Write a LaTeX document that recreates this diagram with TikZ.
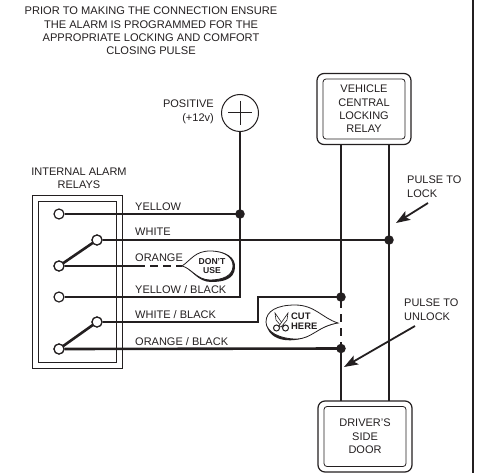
\documentclass[tikz,border=0pt]{standalone}
\usepackage{fontspec}
\setmainfont{Liberation Sans}
\usetikzlibrary{arrows.meta}
\definecolor{ink}{HTML}{231F20}
\tikzset{
  wire/.style={line width=2.6pt,draw=ink},
  term/.style={circle,draw=ink,line width=1.2pt,fill=white,minimum size=10pt,inner sep=0pt},
  dot/.style={circle,fill=ink,minimum size=9.5pt,inner sep=0pt},
  lbl/.style={font=\fontsize{11}{13}\selectfont,text=ink,inner sep=0pt},
  wl/.style={lbl,anchor=base west},
  outerbox/.style={draw=ink,line width=1.2pt,rounded corners=7pt,minimum width=94pt,minimum height=71pt,inner sep=0pt},
  innerbox/.style={draw=ink,line width=0.8pt,rounded corners=3pt,minimum width=82pt,minimum height=60pt,align=center,inner sep=0pt,font=\fontsize{11}{13.3}\selectfont,text=ink},
  pointer/.style={line width=1.8pt,draw=ink,-{Stealth[length=14pt,width=10pt,inset=3pt]}},
  balloon/.style={draw=ink,line width=0.8pt,fill=white},
  bold tag/.style={font=\bfseries\fontsize{8.6}{9.6}\selectfont,text=ink,align=center,inner sep=0pt},
}
\begin{document}
\begin{tikzpicture}[x=1pt,y=-1pt]
\useasboundingbox (0,0) rectangle (486,473);
% page rule
\coordinate (ruleT) at (473,0);
\coordinate (ruleB) at (473,473);
\draw[line width=1.2pt,draw=ink] (ruleT) -- (ruleB);
% heading
\node[lbl,align=center,font=\fontsize{11.1}{13.4}\selectfont] (head) at (151,31) {PRIOR TO MAKING THE CONNECTION ENSURE\\THE ALARM IS PROGRAMMED FOR THE\\APPROPRIATE LOCKING AND COMFORT\\CLOSING PULSE};
% relay housing
\node[draw=ink,line width=1pt,minimum width=90pt,minimum height=173pt,inner sep=0pt] (relayO) at (77,281.5) {};
\node[draw=ink,line width=0.7pt,minimum width=78pt,minimum height=161pt,inner sep=0pt] (relayI) at (77,281.5) {};
\node[lbl,align=center,font=\fontsize{11}{13}\selectfont] (relayT) at (79,178.5) {INTERNAL ALARM\\RELAYS};
% boxes
\node[outerbox] (vclO) at (364,109) {};
\node[innerbox] (vcl) at (364,109) {VEHICLE\\CENTRAL\\LOCKING\\RELAY};
\node[outerbox] (doorO) at (365,436.5) {};
\node[innerbox] (door) at (365,436.5) {DRIVER'S\\SIDE\\DOOR};
% positive
\node[circle,draw=ink,line width=1pt,minimum size=37pt,inner sep=0pt] (pos) at (240,113) {};
\draw[line width=1pt,draw=ink] (pos.center) +(-12,0) -- +(12,0) (pos.center) +(0,-12) -- +(0,12);
\node[lbl,align=right,anchor=east,font=\fontsize{11}{14}\selectfont] (posT) at (214,112) {POSITIVE\\(+12v)};
% terminals
\node[term] (t1) at (59,214) {};
\node[term] (t2) at (97,240) {};
\node[term] (t3) at (59,266) {};
\node[term] (t4) at (59,297) {};
\node[term] (t5) at (97,322) {};
\node[term] (t6) at (59,349) {};
% junctions
\node[dot] (jY) at (240,214) {};
\node[dot] (jW) at (389,240) {};
\node[dot] (jWB) at (341,297) {};
\node[dot] (jOB) at (341,348.5) {};
% helpers
\coordinate (lT) at (341,145);
\coordinate (rT) at (389,145);
\coordinate (lB) at (341,401);
\coordinate (rB) at (389,401);
\coordinate (corn) at (240,297);
\coordinate (wb1) at (258,322);
\coordinate (wb2) at (258,297);
\coordinate (oDash) at (145,266);
\coordinate (oEnd) at (182,266);
% wires
\draw[wire] (pos.south) -- (jY.center) -- (corn) -- (t4.east);
\draw[wire] (t1.east) -- (jY.center);
\draw[wire] (t2.east) -- (jW.center);
\draw[wire] (t3.center) -- (t2.center);
\draw[wire] (t6.center) -- (t5.center);
\draw[wire] (t3.east) -- (oDash);
\draw[wire,dash pattern=on 8pt off 5pt on 8pt off 5pt on 6pt] ([xshift=5pt]oDash) -- (oEnd);
\draw[wire] (t5.east) -- (wb1) -- (wb2) -- (jWB.center);
\draw[wire] (t6.east) -- (jOB.center);
\draw[wire] (lT) -- (jWB.center);
\draw[wire,dash pattern=on 8pt off 6pt] ([yshift=11pt]jWB.center) -- ([yshift=-7pt]jOB.center);
\draw[wire] (jOB.center) -- (lB);
\draw[wire] (rT) -- (rB);
\node[term] at (t2) {};
\node[term] at (t3) {};
\node[term] at (t5) {};
\node[term] at (t6) {};
% wire labels
\node[wl] (l1) at (135,210) {YELLOW};
\node[wl] (l2) at (135,235) {WHITE};
\node[wl] (l3) at (135,261) {ORANGE};
\node[wl] (l4) at (135,293) {YELLOW / BLACK};
\node[wl] (l5) at (135,318) {WHITE / BLACK};
\node[wl] (l6) at (135,345) {ORANGE / BLACK};
% don't use balloon
\fill[ink] (183,266) .. controls (192,260) and (196,251) .. (211,251) .. controls (227,251) and (236,258) .. (235,268) .. controls (234,279) and (224,282) .. (211,282) .. controls (198,282) and (192,270) .. (183,266) -- cycle;
\draw[balloon] (182,266) .. controls (191,260) and (195,251) .. (210,251) .. controls (226,251) and (233,258) .. (233,266) .. controls (233,276) and (222,280) .. (210,280) .. controls (197,280) and (191,268) .. (182,266) -- cycle;
\node[bold tag] (dont) at (212,266) {DON'T\\USE};
% cut here balloon
\fill[ink] (338,323) .. controls (322,327) and (316,332) .. (308,336) .. controls (298,342) and (268,345) .. (266,322) .. controls (268,340) and (298,338) .. (306,333) .. controls (316,328) and (324,326) .. (338,323) -- cycle;
\draw[balloon] (338,323) .. controls (322,318) and (315,305) .. (295,305) .. controls (277,305) and (266,311) .. (266,322) .. controls (266,332) and (280,339) .. (296,339) .. controls (312,339) and (318,326) .. (338,323) -- cycle;
\node[bold tag,align=left,anchor=west,font=\bfseries\fontsize{9.4}{9.6}\selectfont] (cut) at (291,321.5) {CUT\\HERE};
% scissors
\draw[line width=0.6pt,draw=ink,fill=white] (275,313) -- (284,326) -- (282,327) -- (276,320) -- cycle;
\draw[line width=0.6pt,draw=ink,fill=white] (288,313) -- (279,326) -- (281,327) -- (287,320) -- cycle;
\node[circle,draw=ink,line width=1pt,minimum size=6pt,inner sep=0pt] (s1) at (276.5,328) {};
\node[circle,draw=ink,line width=1pt,minimum size=6pt,inner sep=0pt] (s2) at (285.5,328) {};
% pulse labels
\node[lbl,align=left,anchor=north west,font=\fontsize{11}{13.4}\selectfont] (pl) at (407,176) {PULSE TO\\LOCK};
\node[lbl,align=left,anchor=north west,font=\fontsize{11}{13.4}\selectfont] (pu) at (404,299) {PULSE TO\\UNLOCK};
\coordinate (aL) at (396,223);
\coordinate (aU) at (344,367);
\draw[pointer] (428,203) -- (aL);
\draw[pointer] (415,326) -- (aU);
\end{tikzpicture}
\end{document}
